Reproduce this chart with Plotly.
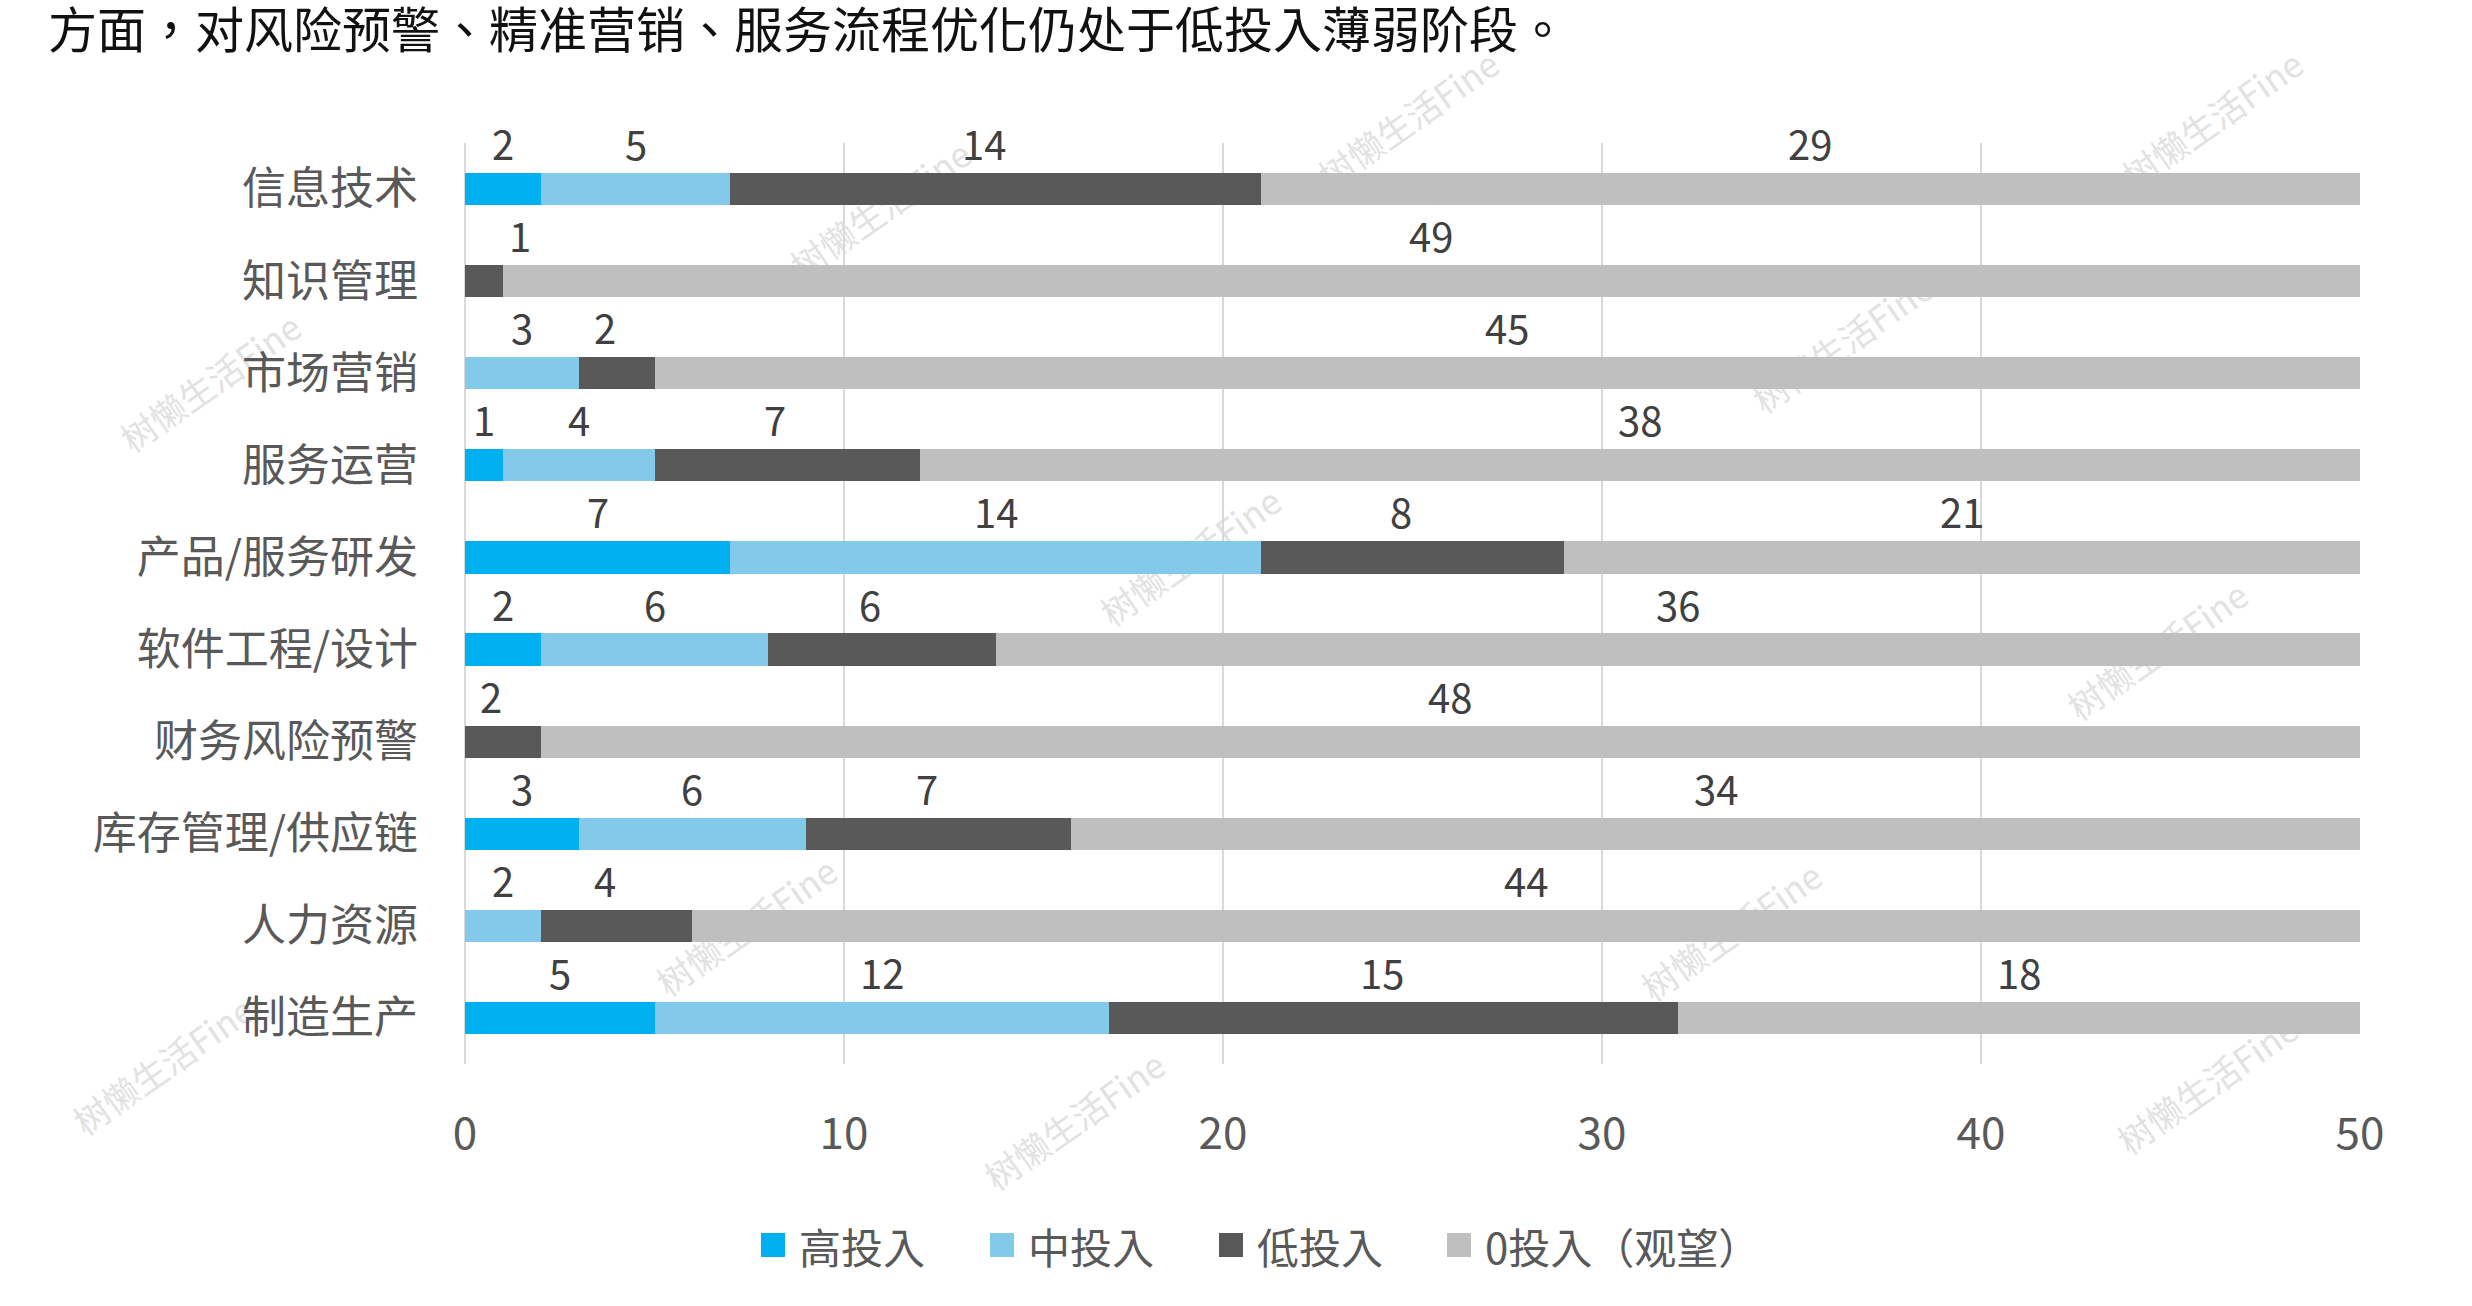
import plotly.graph_objects as go

# ---------------- data ----------------
categories = ["信息技术", "知识管理", "市场营销", "服务运营", "产品/服务研发",
              "软件工程/设计", "财务风险预警", "库存管理/供应链", "人力资源", "制造生产"]
series_names = ["高投入", "中投入", "低投入", "0投入（观望）"]
high_invest = [2, 0, 0, 1, 7, 2, 0, 3, 0, 5]
mid_invest = [5, 0, 3, 4, 14, 6, 0, 6, 2, 12]
low_invest = [14, 1, 2, 7, 8, 6, 2, 7, 4, 15]
zero_invest = [29, 49, 45, 38, 21, 36, 48, 34, 44, 18]
x_ticks = [0, 10, 20, 30, 40, 50]
caption = "方面，对风险预警、精准营销、服务流程优化仍处于低投入薄弱阶段。"
watermark = "树懒生活Fine"

# ---------------- style ----------------
W, H = 2472, 1306
PL, PR, PT, PB = 465, 2360, 143, 1064  # plot area in px
colors = ["#00B0F0", "#83C9EA", "#595959", "#BFBFBF"]
FONT = "Noto Sans CJK SC"
FONT_TC = "Noto Sans CJK TC"
label_xshift = {2: -12}                 # per-series horizontal nudge (px)
special_xshift = {(1, 2): 36}           # (row, series) nudges
wm_positions = [(1411, 123), (2215, 123), (883, 213), (1845, 347), (213, 386),
                (1193, 560), (2160, 654), (749, 930), (1734, 935), (166, 1069),
                (1077, 1124), (2210, 1088)]
legend_left = [761, 990, 1219, 1447]
legend_y = 1245


def px_x(px):
    return (px - PL) / (PR - PL)


def px_y(py):
    return (PB - py) / (PB - PT)


all_series = [high_invest, mid_invest, low_invest, zero_invest]

fig = go.Figure()
for name, vals, col in zip(series_names, all_series, colors):
    fig.add_trace(go.Bar(y=categories, x=vals, name=name, orientation="h",
                         marker=dict(color=col, line=dict(width=0)),
                         showlegend=False, hoverinfo="x+name"))

annotations = []
# data labels centred on each segment, above the bar
for r, cat in enumerate(categories):
    base = 0
    for s, vals in enumerate(all_series):
        v = vals[r]
        if v > 0:
            xs = label_xshift.get(s, 0)
            xs = special_xshift.get((r, s), xs)
            annotations.append(dict(x=base + v / 2, y=cat, xref="x", yref="y",
                                    text=str(v), showarrow=False, yshift=46, xshift=xs,
                                    font=dict(family=FONT, size=40, color="#404040")))
        base += v

# caption line at top
annotations.append(dict(x=px_x(46), y=px_y(27), xref="paper", yref="paper",
                        xanchor="left", yanchor="middle", text=caption, showarrow=False,
                        font=dict(family=FONT_TC, size=49, color="#111111")))

shapes = []
# custom legend
for name, col, lx in zip(series_names, colors, legend_left):
    shapes.append(dict(type="rect", xref="paper", yref="paper",
                       x0=px_x(lx), x1=px_x(lx + 24), y0=px_y(legend_y - 12), y1=px_y(legend_y + 12),
                       fillcolor=col, line=dict(width=0)))
    annotations.append(dict(x=px_x(lx + 36), y=px_y(legend_y), xref="paper", yref="paper",
                            xanchor="left", yanchor="middle", text=name, showarrow=False,
                            font=dict(family=FONT_TC, size=42, color="#595959")))

# watermarks (behind the bars)
for cx, cy in wm_positions:
    shapes.append(dict(type="rect", xref="paper", yref="paper", layer="below",
                       x0=px_x(cx - 1), x1=px_x(cx + 1), y0=px_y(cy + 1), y1=px_y(cy - 1),
                       line=dict(width=0), fillcolor="rgba(0,0,0,0)",
                       label=dict(text=watermark, textangle=-35, textposition="middle center",
                                  font=dict(family=FONT, size=35, color="#E2E2E2"))))

fig.update_layout(
    width=W, height=H, autosize=False,
    margin=dict(l=PL, r=W - PR, t=PT, b=H - PB),
    paper_bgcolor="white", plot_bgcolor="white",
    barmode="stack", bargap=0.65,
    font=dict(family=FONT, color="#595959"),
    annotations=annotations, shapes=shapes,
    xaxis=dict(range=[0, 50], tickvals=x_ticks, showgrid=True, gridcolor="#D9D9D9",
               gridwidth=2, zeroline=True, zerolinecolor="#D9D9D9", zerolinewidth=2,
               showline=False, ticks="", ticklabelstandoff=40,
               tickfont=dict(family=FONT, size=44, color="#595959")),
    yaxis=dict(range=[len(categories) - 0.5, -0.5], autorange=False,
               showgrid=False, zeroline=False, showline=False,
               ticks="", ticklabelstandoff=46,
               tickfont=dict(family=FONT, size=44, color="#595959")),
)

fig.write_html("out.html")
